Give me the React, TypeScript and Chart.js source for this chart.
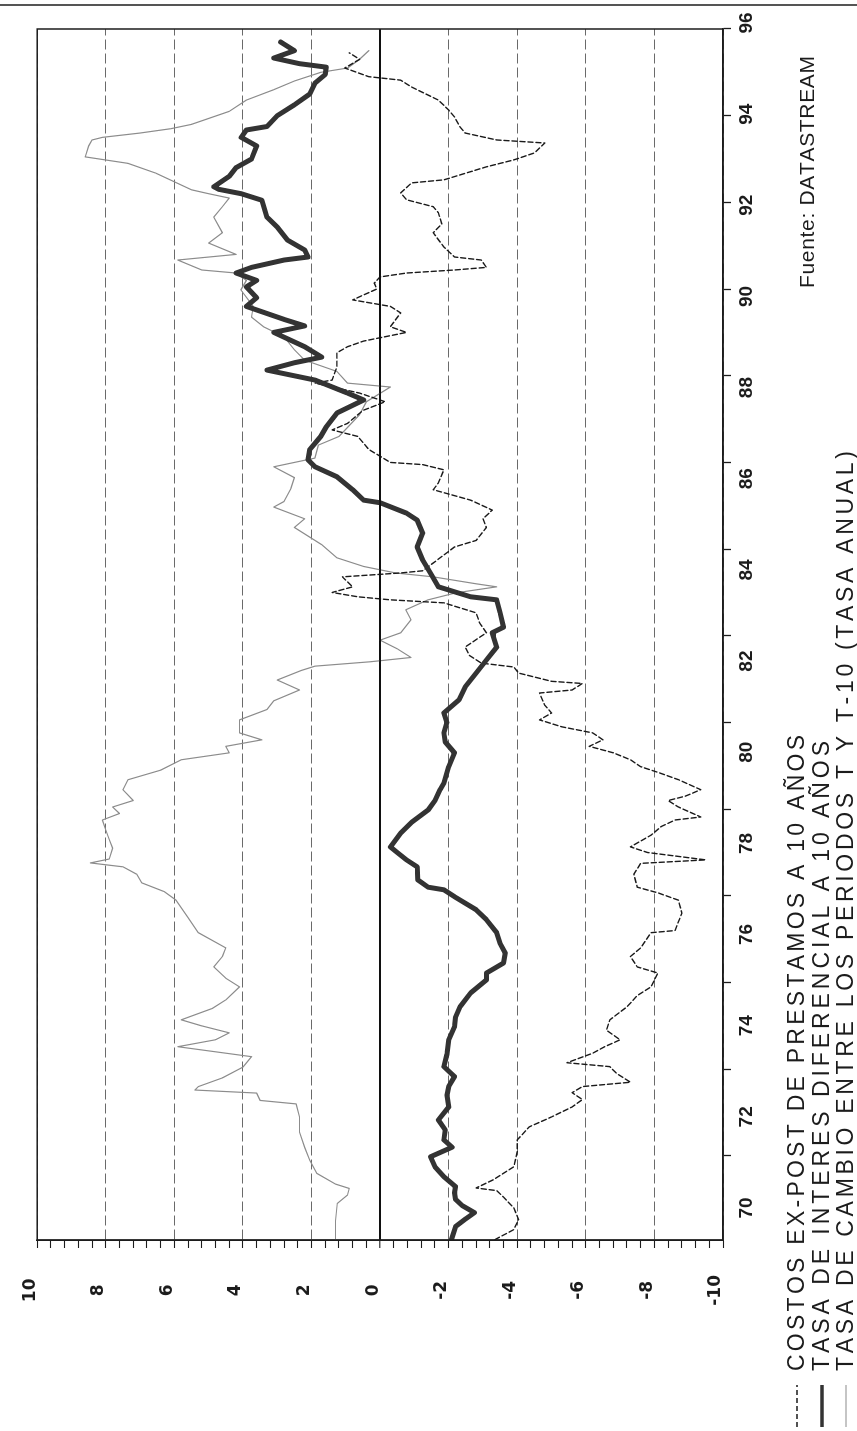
import React, { useEffect, useRef } from "react";
import { Chart, registerables } from "chart.js";
Chart.register(...registerables);

// Landscape drawing size (the page shows it turned a quarter turn counter-clockwise)
const W = 1431;
const H = 857;

// ---- data: [year (19xx), value] ----
const costos: [number, number][] = [
  [68.07, -3.35], [68.3, -3.9], [68.53, -4.04], [68.8, -3.9], [69.05, -3.6], [69.2, -3.4], [69.26, -2.8],
  [69.45, -3.3], [69.75, -3.9], [70.1, -4.0], [70.37, -4.0], [70.67, -4.35], [70.9, -5.0], [71.13, -5.6],
  [71.3, -5.9], [71.46, -5.6], [71.6, -5.9], [71.7, -7.3], [71.9, -6.9], [72.06, -6.7], [72.15, -5.45],
  [72.37, -6.2], [72.52, -6.55], [72.68, -7.0], [72.9, -6.6], [73.14, -6.7], [73.44, -7.2], [73.7, -7.5],
  [73.9, -7.9], [74.22, -8.1], [74.36, -7.5], [74.6, -7.3], [74.8, -7.6], [75.15, -7.9], [75.2, -8.6],
  [75.6, -8.8], [75.9, -8.7], [76.07, -8.1], [76.2, -7.5], [76.5, -7.4], [76.75, -7.6], [76.83, -9.5],
  [77.0, -7.8], [77.13, -7.3], [77.4, -7.9], [77.6, -8.2], [77.75, -8.6], [77.82, -9.35], [78.05, -8.7],
  [78.2, -8.4], [78.3, -8.9], [78.45, -9.35], [78.68, -8.7], [78.85, -8.1], [78.98, -7.6], [79.14, -7.3],
  [79.3, -6.8], [79.45, -6.1], [79.6, -6.5], [79.76, -6.2], [79.9, -5.3], [80.06, -4.65], [80.22, -5.0],
  [80.4, -4.8], [80.68, -4.65], [80.75, -5.6], [80.9, -5.9], [80.95, -5.0], [81.14, -4.04], [81.28, -3.9],
  [81.37, -2.95], [81.55, -2.6], [81.74, -2.48], [82.07, -3.1], [82.3, -2.9], [82.53, -2.8], [82.76, -1.86],
  [82.83, -0.3], [82.9, 0.65], [83.0, 1.4], [83.13, 0.8], [83.36, 1.1], [83.45, -0.6], [83.5, -1.24],
  [83.68, -1.55], [84.05, -2.17], [84.2, -2.8], [84.5, -3.1], [84.7, -3.0], [84.9, -3.27], [85.13, -2.64],
  [85.37, -1.55], [85.53, -1.7], [85.83, -1.86], [85.95, -1.24], [86.0, -0.3], [86.3, 0.33], [86.6, 0.65],
  [86.75, 1.4], [86.9, 0.95], [87.2, 0.5], [87.4, -0.15], [87.6, 0.6], [87.83, 1.9], [87.9, 1.4],
  [88.2, 1.26], [88.53, 1.26], [88.67, 0.95], [88.8, 0.48], [89.0, -0.77], [89.13, -0.3], [89.45, -0.6],
  [89.6, -0.3], [89.75, 0.8], [90.0, 0.1], [90.14, 0.17], [90.28, 0.0], [90.37, -0.77], [90.44, -2.17],
  [90.5, -3.1], [90.67, -2.95], [90.74, -2.17], [90.97, -1.86], [91.3, -1.55], [91.5, -1.8], [91.76, -1.7],
  [91.9, -1.55], [92.06, -0.77], [92.22, -0.6], [92.45, -0.92], [92.52, -1.86], [92.82, -3.1], [92.98, -3.9],
  [93.14, -4.5], [93.37, -4.8], [93.44, -3.4], [93.6, -2.48], [93.74, -2.33], [93.97, -2.17], [94.13, -2.0],
  [94.36, -1.7], [94.66, -0.92], [94.82, -0.6], [94.9, 0.33], [95.1, 1.03], [95.3, 0.6], [95.45, 0.9],
];

const interes: [number, number][] = [
  [68.07, -2.08], [68.37, -2.2], [68.55, -2.5], [68.69, -2.75], [68.85, -2.4], [69.0, -2.2], [69.15, -2.17],
  [69.29, -2.2], [69.52, -1.86], [69.75, -1.6], [69.98, -1.47], [70.2, -2.1], [70.37, -1.86], [70.6, -1.9],
  [70.83, -1.7], [71.13, -2.0], [71.4, -1.95], [71.6, -2.0], [71.83, -2.17], [72.06, -1.86], [72.35, -1.95],
  [72.68, -2.0], [72.98, -2.17], [73.2, -2.2], [73.44, -2.33], [73.76, -2.64], [74.06, -3.1], [74.22, -3.1],
  [74.45, -3.6], [74.68, -3.65], [74.9, -3.5], [75.15, -3.4], [75.45, -3.1], [75.68, -2.8], [75.98, -2.17],
  [76.14, -1.86], [76.2, -1.4], [76.37, -1.1], [76.67, -1.08], [76.83, -0.77], [77.0, -0.5], [77.13, -0.3],
  [77.45, -0.6], [77.7, -0.92], [77.98, -1.4], [78.2, -1.6], [78.45, -1.75], [78.6, -1.86], [78.98, -2.0],
  [79.3, -2.17], [79.55, -1.9], [79.76, -1.86], [80.0, -1.95], [80.22, -1.86], [80.52, -2.3], [80.82, -2.48],
  [81.14, -2.8], [81.44, -3.1], [81.74, -3.4], [82.07, -3.27], [82.2, -3.6], [82.53, -3.5], [82.83, -3.4],
  [82.9, -2.64], [83.13, -1.7], [83.4, -1.5], [83.75, -1.24], [84.05, -1.08], [84.37, -1.24], [84.67, -1.08],
  [84.83, -0.77], [85.07, 0.0], [85.13, 0.48], [85.37, 0.8], [85.67, 1.26], [85.9, 1.9], [86.06, 2.1],
  [86.3, 2.05], [86.6, 1.73], [86.82, 1.57], [87.14, 1.26], [87.44, 0.48], [87.6, 0.95], [87.9, 1.9],
  [88.13, 3.3], [88.3, 2.5], [88.43, 1.7], [88.67, 2.2], [89.0, 3.1], [89.15, 2.2], [89.3, 2.8], [89.6, 3.9],
  [89.8, 3.6], [90.05, 3.9], [90.2, 3.6], [90.37, 4.2], [90.5, 3.75], [90.67, 2.8], [90.74, 2.1], [90.9, 2.2],
  [91.13, 2.7], [91.43, 3.0], [91.66, 3.3], [92.05, 3.45], [92.2, 4.05], [92.3, 4.7], [92.36, 4.85],
  [92.6, 4.4], [92.8, 4.2], [93.0, 3.75], [93.3, 3.6], [93.5, 4.05], [93.67, 3.9], [93.75, 3.3], [94.0, 3.0],
  [94.25, 2.5], [94.5, 2.05], [94.75, 1.9], [94.95, 1.6], [95.12, 1.57], [95.2, 2.35], [95.33, 3.1],
  [95.5, 2.5], [95.7, 2.9],
];

const cambio: [number, number][] = [
  [68.07, 1.3], [68.5, 1.3], [68.9, 1.25], [69.1, 0.95], [69.25, 0.9], [69.35, 1.3], [69.6, 1.85], [69.9, 2.05],
  [70.2, 2.2], [70.55, 2.35], [70.9, 2.35], [71.2, 2.45], [71.28, 3.5], [71.45, 3.6], [71.52, 5.4], [71.6, 5.3],
  [71.8, 4.6], [72.05, 4.0], [72.29, 3.75], [72.52, 5.9], [72.68, 4.8], [72.84, 4.4], [73.0, 5.2], [73.14, 5.8],
  [73.4, 4.9], [73.6, 4.5], [73.9, 4.1], [74.1, 4.5], [74.36, 4.85], [74.6, 4.6], [74.8, 4.5], [75.15, 5.3],
  [75.5, 5.6], [75.9, 5.95], [76.1, 6.3], [76.3, 6.95], [76.5, 7.1], [76.67, 7.5], [76.76, 8.45], [76.85, 7.9],
  [77.1, 7.8], [77.3, 7.9], [77.52, 8.0], [77.75, 8.1], [77.9, 7.6], [78.05, 7.8], [78.2, 7.2], [78.45, 7.5],
  [78.68, 7.35], [78.9, 6.4], [79.14, 5.8], [79.3, 4.4], [79.45, 4.5], [79.6, 3.45], [79.76, 4.1], [80.06, 4.1],
  [80.3, 3.3], [80.5, 3.1], [80.75, 2.35], [80.98, 3.0], [81.2, 2.3], [81.3, 1.9], [81.4, 0.3], [81.5, -0.9],
  [81.7, -0.5], [81.9, 0.0], [82.07, -0.6], [82.37, -0.9], [82.6, -0.75], [82.83, -1.4], [82.99, -2.2],
  [83.13, -3.4], [83.2, -2.8], [83.36, -1.55], [83.45, -0.45], [83.6, 0.48], [83.8, 1.26], [84.1, 1.7],
  [84.5, 2.5], [84.7, 2.2], [84.97, 3.1], [85.1, 2.8], [85.4, 2.6], [85.65, 2.5], [85.9, 3.1], [86.1, 1.9],
  [86.4, 1.8], [86.6, 1.2], [86.85, 0.9], [87.1, 0.6], [87.4, 0.4], [87.74, -0.3], [87.83, 0.95], [88.1, 1.26],
  [88.36, 2.2], [88.6, 2.5], [88.9, 2.8], [89.13, 3.4], [89.35, 3.75], [89.6, 3.7], [89.98, 4.06], [90.2, 3.9],
  [90.37, 4.2], [90.44, 5.2], [90.67, 5.9], [90.8, 4.2], [91.06, 5.0], [91.3, 4.6], [91.66, 4.85], [91.9, 4.6],
  [92.1, 4.4], [92.2, 5.0], [92.29, 5.5], [92.68, 6.56], [92.9, 7.35], [93.05, 8.6], [93.3, 8.5], [93.44, 8.4],
  [93.5, 8.1], [93.6, 7.0], [93.7, 6.1], [93.8, 5.5], [94.1, 4.4], [94.36, 3.9], [94.6, 3.1], [94.8, 2.5],
  [95.0, 1.73], [95.1, 0.95], [95.3, 0.6], [95.5, 0.33],
];

const yearTicks = [70, 72, 74, 76, 78, 80, 82, 84, 86, 88, 90, 92, 94, 96];
const yearLabels = ["70", "72", "74", "76", "78", "80", "82", "84", "86", "88", "90", "92", "94", "96"];
const valueLabels = ["-10", "-8", "-6", "-4", "-2", "0", "2", "4", "6", "8", "10"];
const valueMajors = [-10, -8, -6, -4, -2, 0, 2, 4, 6, 8, 10];
const valueMinorStep = 0.4;

const seriesNames = [
  "COSTOS EX-POST DE PRESTAMOS A 10 AÑOS",
  "TASA DE INTERES DIFERENCIAL A 10 AÑOS",
  "TASA DE CAMBIO ENTRE LOS PERIODOS T Y T-10 (TASA ANUAL)",
];
const sourceText = "Fuente: DATASTREAM";

// ---- styles ----
const INK = "#1c1c1c";
const styles = [
  { color: "#1a1a1a", width: 1.4, dash: [5, 3] },
  { color: "#333333", width: 5, dash: [] as number[] },
  { color: "#8c8c8c", width: 1.2, dash: [] as number[] },
];

const allValueTicks: number[] = [];
for (let i = 0; i <= 50; i++) allValueTicks.push(Math.round((-10 + i * valueMinorStep) * 10) / 10);
const isMajor = (v: number) => valueMajors.indexOf(Math.round(v * 10) / 10) >= 0;

function drawSpaced(ctx: CanvasRenderingContext2D, text: string, x: number, y: number, target: number) {
  const chars = Array.from(text);
  const widths = chars.map((c) => ctx.measureText(c).width);
  const natural = widths.reduce((a, b) => a + b, 0);
  const extra = chars.length > 1 ? (target - natural) / (chars.length - 1) : 0;
  let cx = x;
  chars.forEach((c, i) => {
    ctx.fillText(c, cx, y);
    cx += widths[i] + extra;
  });
}

const decorPlugin = {
  id: "decor",
  afterDraw(chart: any) {
    const { ctx, chartArea: a } = chart;
    const yScale = chart.scales.y;
    ctx.save();
    // zero line
    const y0 = yScale.getPixelForValue(0);
    ctx.strokeStyle = "#111";
    ctx.lineWidth = 1.6;
    ctx.setLineDash([]);
    ctx.beginPath();
    ctx.moveTo(a.left, y0);
    ctx.lineTo(a.right, y0);
    ctx.stroke();
    // frame
    ctx.strokeStyle = INK;
    ctx.lineWidth = 1.5;
    ctx.strokeRect(a.left, a.top, a.right - a.left, a.bottom - a.top);
    // page header rule
    ctx.strokeStyle = "#555";
    ctx.lineWidth = 2;
    ctx.beginPath();
    ctx.moveTo(1426, 0);
    ctx.lineTo(1426, H);
    ctx.stroke();
    // source
    ctx.fillStyle = INK;
    ctx.textBaseline = "middle";
    ctx.textAlign = "left";
    ctx.font = "21px 'Liberation Sans', Arial, sans-serif";
    drawSpaced(ctx, sourceText, 1143, 808, 232);
    // legend
    const rows = [797, 822, 846];
    const ends = [636, 630, 920];
    ctx.font = "23px 'Liberation Sans', Arial, sans-serif";
    rows.forEach((ry, i) => {
      const s = styles[i];
      ctx.strokeStyle = s.color;
      ctx.lineWidth = i === 1 ? 3.5 : s.width;
      ctx.setLineDash(s.dash);
      ctx.beginPath();
      ctx.moveTo(4, ry);
      ctx.lineTo(46, ry);
      ctx.stroke();
      ctx.setLineDash([]);
      ctx.fillStyle = INK;
      drawSpaced(ctx, seriesNames[i], 60, ry + 1, ends[i]);
    });
    ctx.restore();
  },
};

export default function App() {
  const ref = useRef<HTMLCanvasElement | null>(null);
  useEffect(() => {
    if (!ref.current) return;
    const toPts = (arr: [number, number][]) => arr.map(([x, y]) => ({ x, y }));
    const sets = [costos, interes, cambio].map((arr, i) => ({
      label: seriesNames[i],
      data: toPts(arr),
      borderColor: styles[i].color,
      borderWidth: styles[i].width,
      borderDash: styles[i].dash,
      borderJoinStyle: "round" as const,
      borderCapStyle: "round" as const,
      pointRadius: 0,
      fill: false,
      tension: 0,
      xAxisID: "x",
      yAxisID: "y",
      order: i === 1 ? 0 : i === 0 ? 1 : 2,
    }));
    const chart = new Chart(ref.current, {
      type: "line",
      data: { datasets: sets as any },
      options: {
        responsive: false,
        animation: false,
        layout: { padding: { left: 0, right: 29, top: 22, bottom: 0 } },
        plugins: { legend: { display: false }, tooltip: { enabled: false }, title: { display: false } },
        scales: {
          x: {
            type: "linear",
            position: "bottom",
            min: 68.06,
            max: 96,
            afterBuildTicks: (s: any) => {
              s.ticks = yearTicks.map((v) => ({ value: v }));
            },
            afterFit: (s: any) => {
              s.height = 8;
            },
            grid: { drawOnChartArea: false, drawTicks: true, tickLength: 8, tickColor: INK, tickWidth: 1.3, color: INK },
            border: { display: true, color: INK, width: 1.5 },
            ticks: { display: false },
          },
          x2: {
            type: "linear",
            position: "bottom",
            min: 69.298,
            max: 95.868,
            afterBuildTicks: (s: any) => {
              s.ticks = yearTicks.map((v) => ({ value: v }));
            },
            afterFit: (s: any) => {
              s.height = 126;
            },
            grid: { display: false, drawTicks: false },
            border: { display: false },
            ticks: {
              display: true,
              autoSkip: false,
              maxRotation: 0,
              minRotation: 0,
              padding: 4,
              color: INK,
              font: { family: "'Liberation Sans', Arial, sans-serif", size: 19, weight: "bold" },
              callback: (_v: any, i: number) => yearLabels[i],
            },
          },
          y: {
            type: "linear",
            position: "left",
            min: -10,
            max: 10,
            afterBuildTicks: (s: any) => {
              s.ticks = allValueTicks.map((v) => ({ value: v }));
            },
            afterFit: (s: any) => {
              s.width = 191;
            },
            grid: {
              drawTicks: true,
              tickLength: 8,
              tickColor: INK,
              tickWidth: 1.1,
              color: (c: any) => {
                const v = c.tick ? c.tick.value : 1;
                if (!isMajor(v)) return "rgba(0,0,0,0)";
                return Math.abs(v) < 1e-6 ? "#111" : "#6a6a6a";
              },
              lineWidth: (c: any) => (c.tick && Math.abs(c.tick.value) < 1e-6 ? 1.6 : 1),
            },
            border: {
              display: true,
              color: INK,
              width: 1.5,
              dash: (c: any) => (c.tick && Math.abs(c.tick.value) > 1e-6 ? [10, 4] : []),
            } as any,
            ticks: {
              autoSkip: false,
              padding: 27,
              crossAlign: "center",
              labelOffset: -7,
              color: INK,
              font: { family: "'DejaVu Sans', sans-serif", size: 17, weight: "bold" },
              callback: (v: any) => {
                const r = Math.round(Number(v) * 10) / 10;
                const k = valueMajors.indexOf(r);
                return k >= 0 ? valueLabels[k] : "";
              },
            },
          },
        },
      } as any,
      plugins: [decorPlugin],
    });
    return () => chart.destroy();
  }, []);

  return (
    <div
      style={{
        position: "fixed",
        left: 0,
        top: 0,
        width: W,
        height: H,
        transformOrigin: "0 0",
        transform: `translateY(${W}px) rotate(-90deg)`,
        background: "#fff",
      }}
    >
      <canvas ref={ref} width={W} height={H} style={{ width: W, height: H, display: "block" }} />
    </div>
  );
}
